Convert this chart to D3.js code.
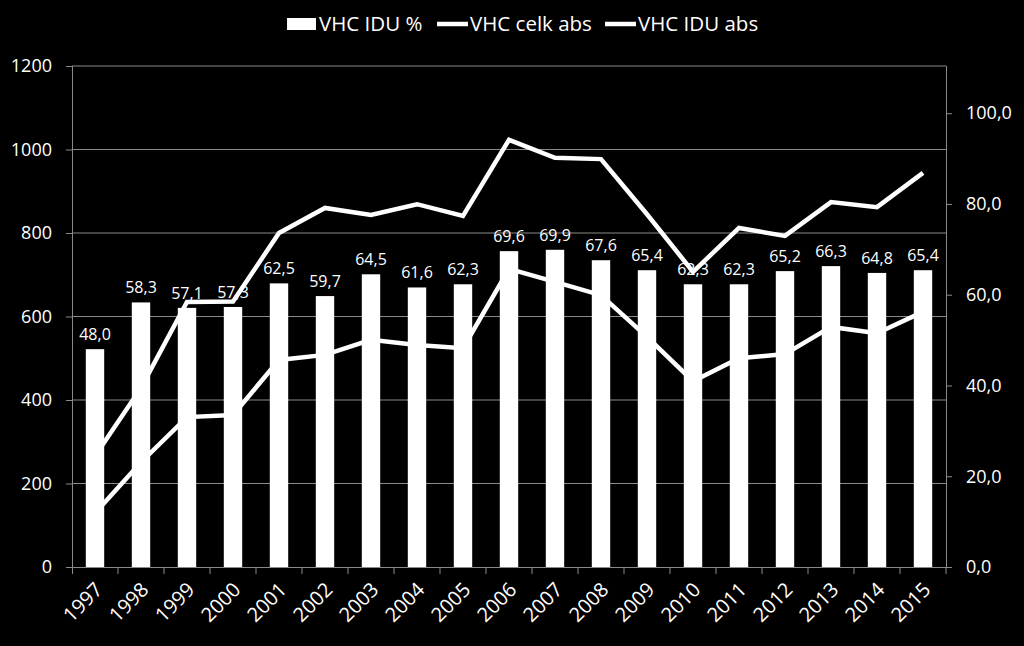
<!DOCTYPE html>
<html>
<head>
<meta charset="utf-8">
<script src="https://cdn.jsdelivr.net/npm/d3@7"></script>
<style>
  html, body { margin: 0; padding: 0; background: #000; }
  svg { display: block; font-family: "Open Sans", "Lato", sans-serif; }
</style>
</head>
<body>
<svg id="chart" width="1024" height="646"></svg>
<script>
const years = ["1997", "1998", "1999", "2000", "2001", "2002", "2003", "2004", "2005", "2006",
    "2007", "2008", "2009", "2010", "2011", "2012", "2013", "2014", "2015"];
const idhPct = [48.0, 58.3, 57.1, 57.3, 62.5, 59.7, 64.5, 61.6, 62.3, 69.6,
    69.9, 67.6, 65.4, 62.3, 62.3, 65.2, 66.3, 64.8, 65.4];
const celkAbs = [266, 429, 635, 636, 800, 860, 843, 869, 841, 1023,
    980, 977, 845, 707, 812, 793, 874, 862, 944];
const iduAbs = [129, 251, 359, 364, 496, 508, 544, 532, 524, 714,
    683, 651, 551, 445, 500, 510, 575, 560, 611];
const leftTicks = [0, 200, 400, 600, 800, 1000, 1200];
const rightTicks = [0, 20, 40, 60, 80, 100];
const legendNames = ["VHC IDU %", "VHC celk abs", "VHC IDU abs"];

const svg = d3.select("#chart");
const margin = {top: 66, right: 78, bottom: 79, left: 72};
const width = +svg.attr("width") - margin.left - margin.right;
const height = +svg.attr("height") - margin.top - margin.bottom;
const g = svg.append("g").attr("transform", "translate(" + margin.left + "," + margin.top + ")");
const fmt = v => d3.format(".1f")(v).replace(".", ",");
const grey = "#8a8a8a";

const x = d3.scaleBand().domain(years).range([0, width]).paddingInner(0.6).paddingOuter(0.3);
const yL = d3.scaleLinear().domain([0, 1200]).range([height, 0]);
// right axis: 100 sits at about y=113, so the top of the plot is about 110.4
const yR = d3.scaleLinear().domain([0, 110.4]).range([height, 0]);
const cx = d => x(d) + x.bandwidth() / 2;

// gridlines
g.append("g")
    .selectAll("line")
    .data(leftTicks.slice(1))
    .join("line")
    .attr("x1", 0).attr("x2", width)
    .attr("y1", d => yL(d)).attr("y2", d => yL(d))
    .attr("stroke", grey).attr("stroke-width", 1);

// axes
const axL = g.append("g").call(d3.axisLeft(yL).tickValues(leftTicks).tickSize(6).tickPadding(14).tickFormat(d3.format("d")));
const axR = g.append("g").attr("transform", "translate(" + width + ",0)")
    .call(d3.axisRight(yR).tickValues(rightTicks).tickSize(6).tickPadding(14).tickFormat(fmt));
const axB = g.append("g").attr("transform", "translate(0," + height + ")")
    .call(d3.axisBottom(x).tickSize(0).tickPadding(0));

[axL, axR, axB].forEach(a => {
    a.select(".domain").attr("stroke", grey);
    a.selectAll(".tick line").attr("stroke", grey);
    a.selectAll("text").attr("fill", "#fff").style("font-size", "18px")
        .style("font-family", "'Open Sans', sans-serif");
});
axL.select(".domain").attr("d", "M0.5," + (height + 7) + "V0");
axR.select(".domain").attr("d", "M0.5," + height + "V0");
axB.select(".domain").attr("d", "M0," + 0.5 + "H" + width);

// category boundary ticks on the x axis
axB.append("g")
    .selectAll("line")
    .data(years.slice(1).concat(["end"]))
    .join("line")
    .attr("x1", (d, i) => (i + 1) * x.step()).attr("x2", (d, i) => (i + 1) * x.step())
    .attr("y1", 0).attr("y2", 7)
    .attr("stroke", grey);

axB.selectAll(".tick text")
    .style("font-size", "20px")
    .attr("text-anchor", "end")
    .attr("dy", "0.35em")
    .attr("transform", "translate(4,19) rotate(-45)");

// lines (left axis)
const line = d3.line()
    .x((d, i) => cx(years[i]))
    .y(d => yL(d))
    .curve(d3.curveLinear);

[celkAbs, iduAbs].forEach(series => {
    g.append("path")
        .datum(series)
        .attr("fill", "none")
        .attr("stroke", "#fff")
        .attr("stroke-width", 4.5)
        .attr("stroke-linejoin", "miter")
        .attr("d", line);
});

// bars (right axis)
g.append("g")
    .selectAll("rect")
    .data(idhPct)
    .join("rect")
    .attr("x", (d, i) => x(years[i]))
    .attr("width", x.bandwidth())
    .attr("y", d => yR(d))
    .attr("height", d => height - yR(d))
    .attr("fill", "#fff");

g.append("g")
    .selectAll("text")
    .data(idhPct)
    .join("text")
    .attr("x", (d, i) => cx(years[i]))
    .attr("y", d => yR(d) - 9)
    .attr("text-anchor", "middle")
    .attr("fill", "#fff")
    .style("font-size", "16px")
    .text(d => fmt(d));

// legend
const leg = svg.append("g").attr("transform", "translate(287,0)");
const legX = [0, 150, 318];
legendNames.forEach((name, i) => {
    const item = leg.append("g").attr("transform", "translate(" + legX[i] + ",0)");
    if (i === 0) {
        item.append("rect").attr("x", 0).attr("y", 18).attr("width", 29).attr("height", 12).attr("fill", "#fff");
    } else {
        item.append("line").attr("x1", 0).attr("x2", 31).attr("y1", 24).attr("y2", 24)
            .attr("stroke", "#fff").attr("stroke-width", 4.5);
    }
    item.append("text")
        .attr("x", i === 0 ? 32 : 33)
        .attr("y", 31)
        .attr("fill", "#fff")
        .style("font-size", "20.5px")
        .text(name);
});
</script>
</body>
</html>
